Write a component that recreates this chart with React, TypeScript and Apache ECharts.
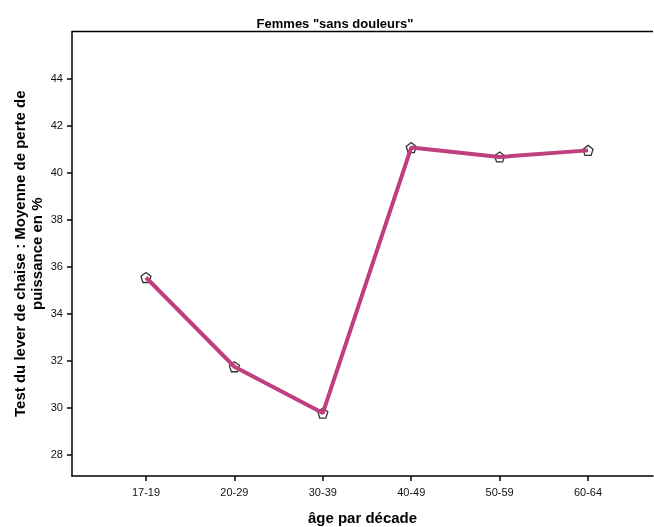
import React, { useEffect, useRef } from "react";
import * as echarts from "echarts";

const categories = ["17-19", "20-29", "30-39", "40-49", "50-59", "60-64"];
const values = [35.53, 31.73, 29.76, 41.06, 40.66, 40.94];
const yTicks = [28, 30, 32, 34, 36, 38, 40, 42, 44];
const xTicks = [0, 1, 2, 3, 4, 5];

const pentagon =
  "path://M0,-1 L0.951,-0.309 L0.588,0.809 L-0.588,0.809 L-0.951,-0.309 Z";

export default function App() {
  const ref = useRef<HTMLDivElement>(null);
  useEffect(() => {
    if (!ref.current) return;
    const chart = echarts.init(ref.current, null, { renderer: "svg" });
    const data = values.map((v, i) => [i, v]);
    const font = "'Liberation Sans', Arial, sans-serif";
    chart.setOption({
      animation: false,
      textStyle: { fontFamily: font },
      title: {
        text: 'Femmes "sans douleurs"',
        left: 330,
        top: 12,
        textAlign: "center",
        textStyle: { fontSize: 13, fontWeight: "bold", color: "#000", fontFamily: font },
      },
      grid: {
        left: 72,
        right: 1,
        top: 31.5,
        bottom: 51,
        containLabel: false,
        outerBoundsMode: "none",
      },
      xAxis: {
        type: "value",
        min: -0.837,
        max: 5.735,
        name: "âge par décade",
        nameLocation: "middle",
        nameGap: 34,
        nameMoveOverlap: false,
        nameTextStyle: { fontSize: 15, fontWeight: "bold", color: "#000", fontFamily: font },
        axisLine: { show: true, onZero: false, lineStyle: { color: "#000", width: 1.5 } },
        axisTick: { show: true, length: 5, customValues: xTicks, lineStyle: { color: "#000", width: 1.5 } },
        axisLabel: {
          customValues: xTicks,
          formatter: (v: number) => categories[Math.round(v)] ?? "",
          fontSize: 11,
          color: "#111",
          margin: 10,
          fontFamily: font,
        },
        splitLine: { show: false },
      },
      yAxis: {
        type: "value",
        min: 27.08,
        max: 46,
        name: "Test du lever de chaise : Moyenne de perte de\npuissance en %",
        nameLocation: "middle",
        nameGap: 27,
        nameMoveOverlap: false,
        nameRotate: 90,
        nameTextStyle: { fontSize: 15, fontWeight: "bold", color: "#000", lineHeight: 17, fontFamily: font },
        axisLine: { show: true, onZero: false, lineStyle: { color: "#000", width: 1.5 } },
        axisTick: { show: true, length: 5, customValues: yTicks, lineStyle: { color: "#000", width: 1.5 } },
        axisLabel: {
          customValues: yTicks,
          fontSize: 11,
          color: "#111",
          margin: 9,
          fontFamily: font,
        },
        splitLine: { show: false },
      },
      series: [
        {
          type: "scatter",
          data,
          z: 1,
          symbol: pentagon,
          symbolSize: 10,
          itemStyle: { color: "#fff", borderColor: "#000", borderWidth: 1.3 },
        },
        {
          type: "line",
          data,
          z: 2,
          showSymbol: false,
          symbol: "none",
          lineStyle: { color: "#c0407f", width: 4 },
        },
      ],
    });
    const top = chart.convertToPixel({ yAxisIndex: 0 }, 46);
    chart.setOption({
      graphic: [
        {
          type: "line",
          shape: { x1: 72, y1: top, x2: 653, y2: top },
          style: { stroke: "#000", lineWidth: 1.5 },
        },
      ],
    });
    return () => chart.dispose();
  }, []);
  return <div ref={ref} style={{ width: 654, height: 527, position: "fixed", left: 0, top: 0 }} />;
}
